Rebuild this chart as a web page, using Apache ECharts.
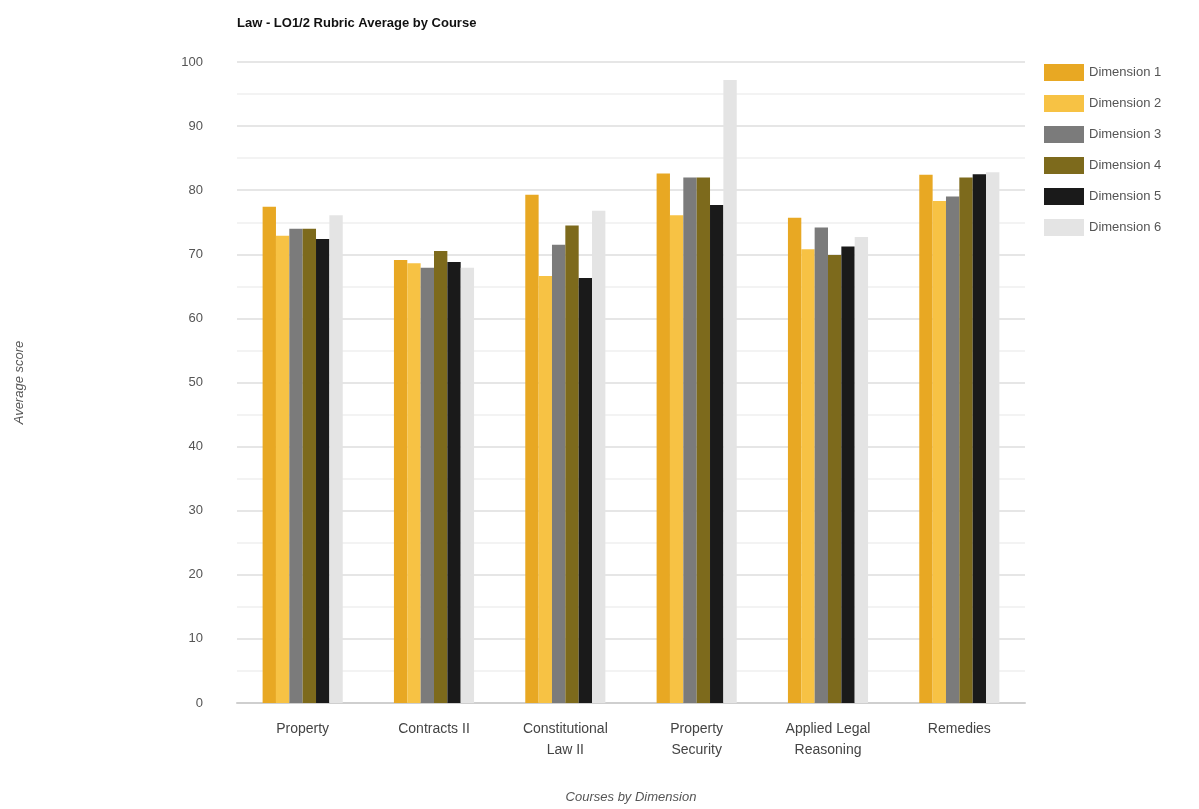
<!DOCTYPE html>
<html><head><meta charset="utf-8">
<script src="https://cdn.jsdelivr.net/npm/echarts@6/dist/echarts.min.js"></script>
<style>html,body{margin:0;padding:0;background:#fff}#c{width:1199px;height:809px}</style>
</head><body><div id="c"></div>
<script>
var categories = ['Property', 'Contracts II', 'Constitutional\nLaw II', 'Property\nSecurity', 'Applied Legal\nReasoning', 'Remedies'];
var seriesNames = ['Dimension 1', 'Dimension 2', 'Dimension 3', 'Dimension 4', 'Dimension 5', 'Dimension 6'];
var dim1 = [77.4, 69.1, 79.3, 82.6, 75.7, 82.4];
var dim2 = [72.9, 68.6, 66.6, 76.1, 70.8, 78.3];
var dim3 = [74.0, 67.9, 71.5, 82.0, 74.2, 79.0];
var dim4 = [74.0, 70.5, 74.5, 82.0, 69.9, 82.0];
var dim5 = [72.4, 68.8, 66.3, 77.7, 71.2, 82.5];
var dim6 = [76.1, 67.9, 76.8, 97.2, 72.7, 82.8];
var colors = ['#E8A823', '#F7C244', '#7B7B7B', '#7D6A1C', '#1A1A1A', '#E4E4E4'];
var allData = [dim1, dim2, dim3, dim4, dim5, dim6];

var chart = echarts.init(document.getElementById('c'));
chart.setOption({
  animation: false,
  textStyle: {fontFamily: 'Liberation Sans, Arial, sans-serif'},
  title: {text: 'Law - LO1/2 Rubric Average by Course', left: 232, top: 12,
    textStyle: {fontSize: 13, fontWeight: 'bold', color: '#111'}},
  legend: {orient: 'vertical', left: 1039, top: 59, itemWidth: 40, itemHeight: 17, itemGap: 14,
    icon: 'rect', textStyle: {fontSize: 13, color: '#555'}, data: seriesNames},
  grid: {left: 237, right: 174, top: 62, bottom: 106},
  xAxis: {type: 'category', data: categories,
    name: 'Courses by Dimension', nameLocation: 'middle', nameGap: 88,
    nameTextStyle: {fontStyle: 'italic', fontSize: 13, color: '#555'},
    axisLine: {lineStyle: {color: '#cfcfcf', width: 2}},
    axisTick: {show: false},
    axisLabel: {fontSize: 14, color: '#444', margin: 16, lineHeight: 21}},
  yAxis: {type: 'value', min: 0, max: 100, interval: 10,
    name: 'Average score', nameLocation: 'middle', nameGap: 211,
    nameTextStyle: {fontStyle: 'italic', fontSize: 13, color: '#555'},
    axisLine: {show: false}, axisTick: {show: false},
    axisLabel: {fontSize: 13, color: '#555', margin: 34},
    splitLine: {lineStyle: {color: '#e6e6e6', width: 2}},
    minorTick: {show: false, splitNumber: 2},
    minorSplitLine: {show: true, lineStyle: {color: '#f3f3f3', width: 2}}},
  series: seriesNames.map(function (n, i) {
    return {name: n, type: 'bar', data: allData[i], barGap: '0%', barCategoryGap: '39%',
      itemStyle: {color: colors[i]}};
  })
});
</script></body></html>
